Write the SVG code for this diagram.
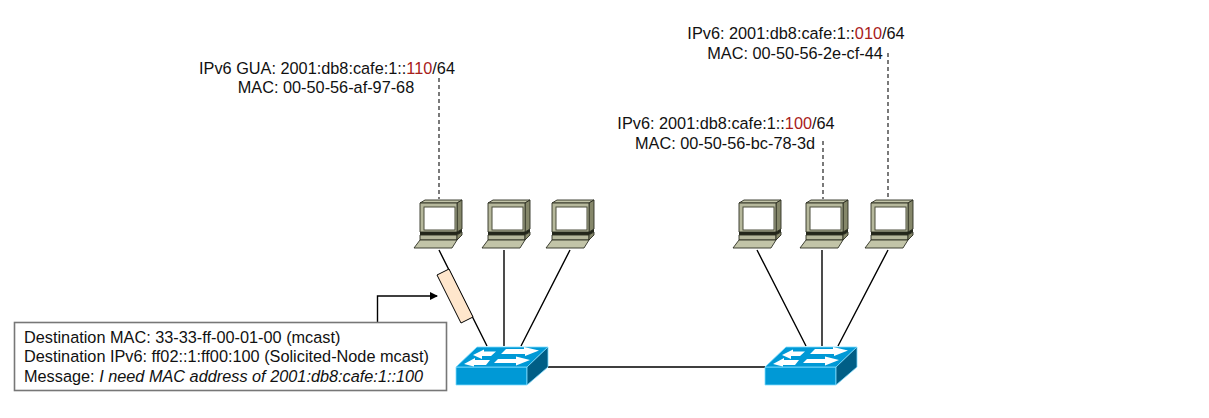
<svg xmlns="http://www.w3.org/2000/svg" width="1209" height="418" viewBox="0 0 1209 418">
<style>
text{font-family:"Liberation Sans",Arial,sans-serif;font-size:16.3px;fill:#111}
.c{text-anchor:middle}
.r{fill:#a8201a}
.ln{stroke:#000;stroke-width:1.4;fill:none}
.d{stroke:#222;stroke-width:1.2;stroke-dasharray:4 3;fill:none}
.pc{stroke:#2c2f22;stroke-width:.9;stroke-linejoin:round}
</style>
<defs>
<marker id="a" markerWidth="8" markerHeight="8" refX="7" refY="4" orient="auto" markerUnits="userSpaceOnUse"><path d="M0 0L8 4L0 8Z" fill="#000"/></marker>
<g id="pc">
<path class="pc" fill="#c2c4a8" d="M0 3L5 0H42L37 3Z"/>
<path class="pc" fill="#85876a" d="M37 3L42 0V29L37 32Z"/>
<rect class="pc" x="0" y="3" width="37" height="29" fill="#b6b89c"/>
<rect x="4" y="7" width="31" height="23" fill="#fff" stroke="#4a4d3a" stroke-width="1"/>
<path fill="#23261a" d="M0 32H37L42 29V32L37 35H0Z"/>
<path class="pc" fill="#b6b89c" d="M0 35H37V40H0Z"/>
<path class="pc" fill="#85876a" d="M37 35L42 32V35L37 40Z"/>
<path class="pc" fill="#c2c4a8" d="M0 40H37L32 48H-6Z"/>
</g>
<g id="sw">
<path fill="#0099d6" stroke="#7fdcff" stroke-width=".8" d="M0 20H71V38H0Z"/>
<path fill="#0099d6" stroke="#7fdcff" stroke-width=".8" d="M0 20L21 0H92L71 20Z"/>
<path fill="#005e86" stroke="#7fdcff" stroke-width=".8" d="M71 20L92 0V20L71 38Z"/>
<path fill="#fff" d="M17 8L28 2.500V4.500H40L35 9H26V12Z"/>
<path fill="#fff" d="M50 2H68V0L83 3.500L69 9V7H45Z"/>
<path fill="#fff" d="M8 17L19 11V13H34L30 18H18V19.500Z"/>
<path fill="#fff" d="M42 12H60V9.500L74 13L60 18.500V16H38Z"/>
</g>
</defs>
<g id="connectors">
<path class="ln" d="M439 250L487 346M504 250V346M570 250L521 346M757 250L806 346M822 250V346M888 250L838 346M548 367H765"/>
<path class="d" d="M439 78V199M823 141V199M888 53V199"/>
<path class="ln" d="M377.500 322V296H437" marker-end="url(#a)"/>
</g>
<g id="pdu"><path fill="#ffe6cc" stroke="#000" stroke-width="1" d="M437 275L449 269L473 317L461 323Z"/></g>
<g id="pc1"><use href="#pc" x="420" y="200"/></g>
<g id="pc2"><use href="#pc" x="488" y="200"/></g>
<g id="pc3"><use href="#pc" x="552" y="200"/></g>
<g id="pc4"><use href="#pc" x="739" y="200"/></g>
<g id="pc5"><use href="#pc" x="806" y="200"/></g>
<g id="pc6"><use href="#pc" x="871" y="200"/></g>
<g id="sw1"><use href="#sw" x="456" y="347"/></g>
<g id="sw2"><use href="#sw" x="765" y="347"/></g>
<g id="label1">
<text x="327" y="73.500" class="c">IPv6 GUA: 2001:db8:cafe:1::<tspan class="r">110</tspan>/64</text>
<text x="326" y="92.500" class="c">MAC: 00-50-56-af-97-68</text>
</g>
<g id="label2">
<text x="726" y="129" class="c">IPv6: 2001:db8:cafe:1::<tspan class="r">100</tspan>/64</text>
<text x="725" y="148.500" class="c">MAC: 00-50-56-bc-78-3d</text>
</g>
<g id="label3">
<text x="796" y="39" class="c">IPv6: 2001:db8:cafe:1::<tspan class="r">010</tspan>/64</text>
<text x="795" y="58.500" class="c">MAC: 00-50-56-2e-cf-44</text>
</g>
<g id="message">
<rect x="14.500" y="322.500" width="432" height="68" fill="#fff" stroke="#777" stroke-width="1.6"/>
<text x="24" y="343">Destination MAC: 33-33-ff-00-01-00 (mcast)</text>
<text x="24" y="362">Destination IPv6: ff02::1:ff00:100 (Solicited-Node mcast)</text>
<text x="24" y="381.500">Message: <tspan font-style="italic">I need MAC address of 2001:db8:cafe:1::100</tspan></text>
</g>
</svg>
